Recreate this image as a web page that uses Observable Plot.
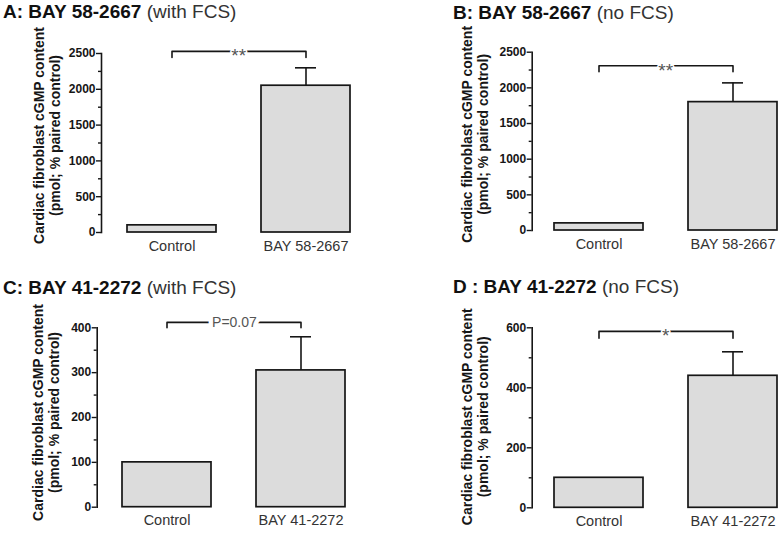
<!DOCTYPE html>
<html><head><meta charset="utf-8">
<script src="https://cdn.jsdelivr.net/npm/d3@7"></script>
<script src="https://cdn.jsdelivr.net/npm/@observablehq/plot@0.6"></script>
<style>
html,body{margin:0;padding:0;background:#fff;}
#root{position:relative;width:782px;height:535px;overflow:hidden;background:#fff;font-family:"Liberation Sans",Arial,sans-serif;}
.title{position:absolute;font-size:19px;line-height:19px;white-space:nowrap;color:#111;}
.title b{font-weight:bold;}
.title span{color:#333;}
.panel{position:absolute;}
.panel svg{max-width:none;}
</style></head><body><div id="root"></div>
<script>
// ---- data ----
const titleBold = ["A: BAY 58-2667", "B: BAY 58-2667", "C: BAY 41-2272", "D : BAY 41-2272"];
const titleRest = ["(with FCS)", "(no FCS)", "(with FCS)", "(no FCS)"];
const groupLabels = [
  ["Control", "BAY 58-2667"],
  ["Control", "BAY 58-2667"],
  ["Control", "BAY 41-2272"],
  ["Control", "BAY 41-2272"]
];
const means = [[100, 2050], [100, 1800], [100, 305], [100, 440]];
const errUpper = [[null, 2300], [null, 2070], [null, 380], [null, 520]];
const yTop = [2500, 2500, 400, 600];
const majorTicks = [
  [0, 500, 1000, 1500, 2000, 2500],
  [0, 500, 1000, 1500, 2000, 2500],
  [0, 100, 200, 300, 400],
  [0, 200, 400, 600]
];
const minorTicks = [
  [250, 750, 1250, 1750, 2250],
  [250, 750, 1250, 1750, 2250],
  [50, 150, 250, 350],
  [100, 300, 500]
];
const sigText = ["**", "**", "P=0.07", "*"];
const bracketLevel = [2530, 2310, 412, 588];
const bracketEnd = [2445, 2225, 400, 565];
const yLabel = "Cardiac fibroblast cGMP content\n(pmol; % paired control)";

// ---- layout (pixels) ----
const layout = [
  {left: 0,   top: 24,  width: 391, height: 238, ml: 101,   mr: 15.5, mt: 29,   mb: 30,   pi: 0.336, po: 0.19, tl: 3,   tt: 1.5, ldx: -55,   ldy: -7.5},
  {left: 391, top: 24,  width: 420, height: 236, ml: 140.7, mr: 12.3, mt: 27.7, mb: 30,   pi: 0.338, po: 0.16, tl: 453, tt: 3,   ldx: -57.7, ldy: -7},
  {left: 0,   top: 296, width: 391, height: 239, ml: 96.7,  mr: 19.8, mt: 31.3, mb: 28.3, pi: 0.336, po: 0.19, tl: 3,   tt: 278, ldx: -51.7, ldy: -5},
  {left: 391, top: 296, width: 420, height: 239, ml: 140.7, mr: 12.3, mt: 31.3, mb: 27.7, pi: 0.338, po: 0.16, tl: 453, tt: 277, ldx: -57.7, ldy: -1}
];

const root = document.getElementById("root");
const ink = "#161616";
const font = "'Liberation Sans', Arial, sans-serif";

for (let i = 0; i < 4; i++) {
  const L = layout[i];
  const rows = groupLabels[i].map((g, j) => ({group: g, mean: means[i][j], upper: errUpper[i][j]}));
  const errRows = rows.filter(d => d.upper != null);
  const bracket = [
    {group: groupLabels[i][0], y: bracketEnd[i]},
    {group: groupLabels[i][0], y: bracketLevel[i]},
    {group: groupLabels[i][1], y: bracketLevel[i]},
    {group: groupLabels[i][1], y: bracketEnd[i]}
  ];
  const isStar = /^\*+$/.test(sigText[i]);
  const chart = Plot.plot({
    width: L.width, height: L.height,
    marginLeft: L.ml, marginRight: L.mr, marginTop: L.mt, marginBottom: L.mb,
    style: {fontFamily: font, color: ink, background: "transparent", overflow: "visible", maxWidth: "none"},
    x: {type: "band", domain: groupLabels[i], paddingInner: L.pi, paddingOuter: L.po, label: null},
    y: {domain: [0, yTop[i]], label: null},
    marks: [
      Plot.barY(rows, {x: "group", y: "mean", fill: "#dcdcdc", stroke: ink, strokeWidth: 1.7}),
      Plot.ruleX(errRows, {x: "group", y1: "mean", y2: "upper", stroke: ink, strokeWidth: 1.6}),
      Plot.tickY(errRows, {x: "group", y: "upper", stroke: ink, strokeWidth: 1.6, insetLeft: 34, insetRight: 34}),
      Plot.frame({anchor: "left", stroke: ink, strokeWidth: 1.6}),
      Plot.axisY(majorTicks[i], {tickSize: 5, tickPadding: 1, fontSize: 12, fontWeight: "bold", strokeWidth: 1.4, tickFormat: d => String(d), label: null}),
      Plot.axisY(minorTicks[i], {tickSize: 3, tickFormat: () => "", strokeWidth: 1.4, label: null}),
      Plot.axisX({tickSize: 0, tickPadding: 8, fontSize: 14.5, fill: "#333", label: null}),
      Plot.line(bracket, {x: "group", y: "y", stroke: ink, strokeWidth: 1.6}),
      Plot.text([{label: sigText[i], y: bracketLevel[i]}], {y: "y", text: "label", frameAnchor: "middle", fontSize: isStar ? 19 : 14, dy: isStar ? 5 : 0, fill: "#555", stroke: "white", strokeWidth: isStar ? 3 : 9}),
      Plot.text([yLabel], {frameAnchor: "left", textAnchor: "middle", rotate: -90, dx: L.ldx, dy: L.ldy, fontSize: 14, fontWeight: "bold", lineHeight: 1.15, fill: ink})
    ]
  });
  const div = document.createElement("div");
  div.className = "panel";
  div.style.left = L.left + "px";
  div.style.top = L.top + "px";
  div.style.width = L.width + "px";
  div.appendChild(chart);
  root.appendChild(div);

  const t = document.createElement("div");
  t.className = "title";
  t.style.left = L.tl + "px";
  t.style.top = L.tt + "px";
  const b = document.createElement("b");
  b.textContent = titleBold[i];
  const s = document.createElement("span");
  s.textContent = " " + titleRest[i];
  t.appendChild(b);
  t.appendChild(s);
  root.appendChild(t);
}
</script>
</body></html>
